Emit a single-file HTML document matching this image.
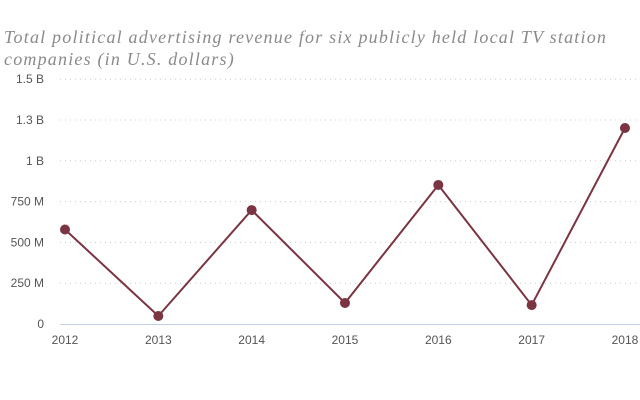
<!DOCTYPE html>
<html><head><meta charset="utf-8"><style>
body{margin:0;background:#fff;width:640px;height:400px;overflow:hidden}
.t{position:absolute;left:4px;top:26px;font:italic 18px/22px "Liberation Serif",serif;letter-spacing:1.2px;color:#8a8a8a;margin:0;white-space:nowrap}
</style></head><body>
<p class="t">Total political advertising revenue for six publicly held local TV station<br>companies (in U.S. dollars)</p>
<svg id="c" width="640" height="400" style="position:absolute;left:0;top:0"></svg>
<script>
const years=["2012","2013","2014","2015","2016","2017","2018"];
const revenue=[579,49,698,129,852,116,1201];
const ticks=[0,250,500,750,1000,1250,1500];
const tickLabels=["0","250 M","500 M","750 M","1 B","1.3 B","1.5 B"];
const svg=document.getElementById('c');const NS='http://www.w3.org/2000/svg';
const y=v=>324-(v/1500)*244.8;
const x=i=>65+i*93.33;
function mk(t,a,p){const e=document.createElementNS(NS,t);for(const k in a)e.setAttribute(k,a[k]);(p||svg).appendChild(e);return e;}
ticks.forEach((t,i)=>{
 if(t>0){const g=mk('line',{x1:60,x2:640,y1:y(t),y2:y(t),stroke:'#ccc','stroke-dasharray':'1,4'});
 
 }
 const l=mk('text',{x:44,y:y(t)+4,'text-anchor':'end','font-family':'Liberation Sans,sans-serif','font-size':'12',fill:'#555'});
 l.textContent=tickLabels[i];
 
 
});
const ax=mk('line',{x1:60,x2:640,y1:324.5,y2:324.5,stroke:'#c0d0e6'});


years.forEach((yr,i)=>{const l=mk('text',{x:x(i),y:344,'text-anchor':'middle','font-family':'Liberation Sans,sans-serif','font-size':'12',fill:'#555'});
 l.textContent=yr;
 
 });
const pl=mk('polyline',{points:revenue.map((v,i)=>x(i)+','+y(v)).join(' '),fill:'none',stroke:'#7a3442','stroke-width':'2'});


revenue.forEach((v,i)=>{const c=mk('circle',{cx:x(i),cy:y(v),r:5,fill:'#7a3442'});
 
 });
</script>
</body></html>
